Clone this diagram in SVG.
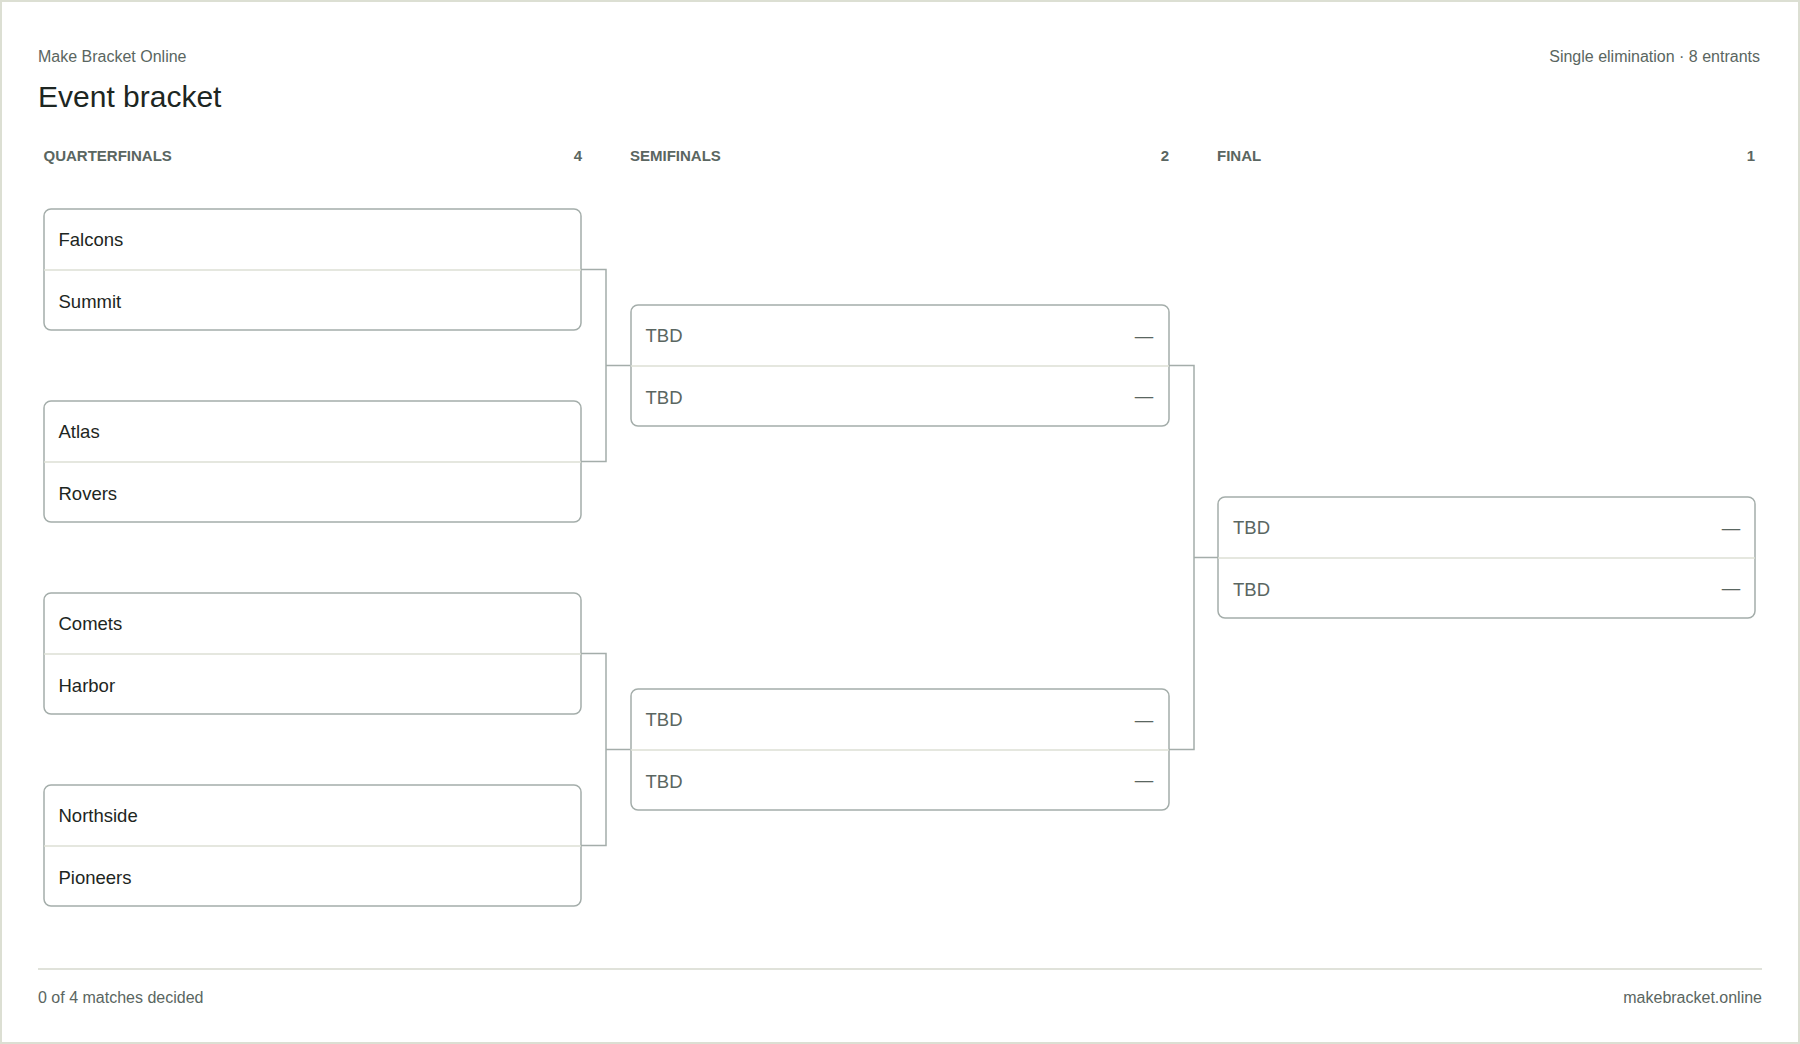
<svg xmlns="http://www.w3.org/2000/svg" width="1800" height="1044" viewBox="0 0 1800 1044">
<style>
text{font-family:"Liberation Sans",Arial,sans-serif}
.bg{fill:#fff;stroke:#dcdfd3;stroke-width:2}
.box{fill:#fff;stroke:#a4adaa;stroke-width:1.5}
.div{stroke:#dcdfd4;stroke-width:1.5}
.team{font-size:18.5px;fill:#1d2622}
.tbd{font-size:18.5px;fill:#5a6661}
.dash{font-size:18.5px;fill:#5a6661;text-anchor:middle}
.hdr{font-size:15px;font-weight:bold;fill:#5a6661}
.meta{font-size:16px;fill:#5a6661}
.con{fill:none;stroke:#a4adaa;stroke-width:1.5}
</style>
<rect class="bg" x="1" y="1" width="1798" height="1042"/>
<text class="meta" x="38" y="62">Make Bracket Online</text>
<text x="38" y="107" style="font-size:30px;fill:#1d2622">Event bracket</text>
<text class="meta" x="1760" y="62" text-anchor="end">Single elimination · 8 entrants</text>
<g id="headers">
<text class="hdr" x="43.5" y="161">QUARTERFINALS</text>
<text class="hdr" x="582" y="161" text-anchor="end">4</text>
<text class="hdr" x="630" y="161">SEMIFINALS</text>
<text class="hdr" x="1169" y="161" text-anchor="end">2</text>
<text class="hdr" x="1217" y="161">FINAL</text>
<text class="hdr" x="1755" y="161" text-anchor="end">1</text>
</g>
<g id="connectors">
<path class="con" d="M581 269.5H606V461.5H581M606 365.5H630"/>
<path class="con" d="M581 653.5H606V845.5H581M606 749.5H630"/>
<path class="con" d="M1169 365.5H1194V749.5H1169M1194 557.5H1218"/>
</g>
<g id="qf1"><rect class="box" x="44" y="209" width="537" height="121" rx="7"/><line class="div" x1="44" y1="270" x2="581" y2="270"/><text class="team" x="58.5" y="246">Falcons</text><text class="team" x="58.5" y="308">Summit</text></g>
<g id="qf2"><rect class="box" x="44" y="401" width="537" height="121" rx="7"/><line class="div" x1="44" y1="462" x2="581" y2="462"/><text class="team" x="58.5" y="438">Atlas</text><text class="team" x="58.5" y="500">Rovers</text></g>
<g id="qf3"><rect class="box" x="44" y="593" width="537" height="121" rx="7"/><line class="div" x1="44" y1="654" x2="581" y2="654"/><text class="team" x="58.5" y="630">Comets</text><text class="team" x="58.5" y="692">Harbor</text></g>
<g id="qf4"><rect class="box" x="44" y="785" width="537" height="121" rx="7"/><line class="div" x1="44" y1="846" x2="581" y2="846"/><text class="team" x="58.5" y="822">Northside</text><text class="team" x="58.5" y="884">Pioneers</text></g>
<g id="sf1"><rect class="box" x="631" y="305" width="538" height="121" rx="7"/><line class="div" x1="631" y1="366" x2="1169" y2="366"/><text class="tbd" x="645.5" y="342">TBD</text><text class="dash" x="1144" y="342">—</text><text class="tbd" x="645.5" y="404">TBD</text><text class="dash" x="1144" y="402">—</text></g>
<g id="sf2"><rect class="box" x="631" y="689" width="538" height="121" rx="7"/><line class="div" x1="631" y1="750" x2="1169" y2="750"/><text class="tbd" x="645.5" y="726">TBD</text><text class="dash" x="1144" y="726">—</text><text class="tbd" x="645.5" y="788">TBD</text><text class="dash" x="1144" y="786">—</text></g>
<g id="final"><rect class="box" x="1218" y="497" width="537" height="121" rx="7"/><line class="div" x1="1218" y1="558" x2="1755" y2="558"/><text class="tbd" x="1233" y="534">TBD</text><text class="dash" x="1731" y="534">—</text><text class="tbd" x="1233" y="596">TBD</text><text class="dash" x="1731" y="594">—</text></g>
<line x1="38" y1="969" x2="1762" y2="969" stroke="#d6d9ce" stroke-width="1.5"/>
<text class="meta" x="38" y="1003">0 of 4 matches decided</text>
<text class="meta" x="1762" y="1003" text-anchor="end">makebracket.online</text>
</svg>
